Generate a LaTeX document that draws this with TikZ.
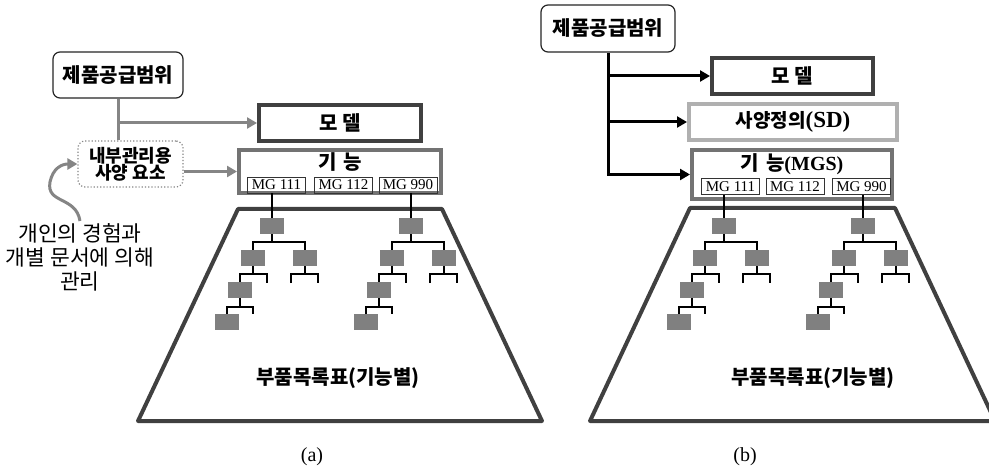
\documentclass[tikz,border=0pt]{standalone}
\usepackage{fontspec}
\setmainfont{Liberation Serif}
\newfontfamily\kr{Noto Sans CJK KR}
\usetikzlibrary{arrows.meta}
\definecolor{dk}{HTML}{404040}
\definecolor{md}{HTML}{737373}
\definecolor{lt}{HTML}{B0B0B0}
\definecolor{ln}{HTML}{858585}
\definecolor{blkc}{HTML}{808080}
\newcommand\bomtree[3]{%
\begin{scope}[shift={(#2,0)}]
 \node[blk] (#1t) at (0,226) {};
 \node[blk] (#1l) at (-19,258) {};
 \node[blk] (#1r) at (33,258) {};
 \node[blk] (#1ll) at (-32,290) {};
 \node[blk] (#1lll) at (-45,322) {};
 \coordinate (#1sa) at (-5,283);
 \coordinate (#1sb) at (19,283);
 \coordinate (#1sc) at (46,283);
 \coordinate (#1sd) at (-19,314);
 \draw[tl] (#3.south -| #1t.north) -- (#1t.north);
 \draw[tl] (#1t.south) -- (0,242);
 \draw[tl] (#1l.north) |- (0,242) -| (#1r.north);
 \draw[tl] (#1l.south) -- (-19,274);
 \draw[tl] (#1ll.north) |- (-19,274) -| (#1sa);
 \draw[tl] (#1r.south) -- (33,274);
 \draw[tl] (#1sb) |- (33,274) -| (#1sc);
 \draw[tl] (#1ll.south) -- (-32,307);
 \draw[tl] (#1lll.north) |- (-32,307) -| (#1sd);
\end{scope}}
\begin{document}
\begin{tikzpicture}[x=1pt,y=-1pt,
 scopebox/.style={draw=black!85, line width=1.2pt, rounded corners=7pt, fill=white, inner sep=0pt, font=\kr\bfseries\fontsize{20}{22}\selectfont},
 dotbox/.style={draw=ln, line width=1.2pt, dotted, rounded corners=7pt, inner sep=0pt, align=center, font=\kr\bfseries\fontsize{18}{17}\selectfont},
 modelbox/.style={draw=dk, line width=4pt, inner sep=0pt, font=\kr\bfseries\fontsize{20}{22}\selectfont},
 sdbox/.style={draw=lt, line width=4pt, inner sep=0pt, font=\kr\bfseries\fontsize{19}{22}\selectfont},
 funcbox/.style={draw=md, line width=4pt, inner sep=0pt},
 titlefont/.style={inner sep=0pt, font=\kr\bfseries\fontsize{20}{22}\selectfont},
 mgbox/.style={draw=black!80, line width=0.9pt, minimum width=58pt, minimum height=16pt, inner sep=0pt, font=\fontsize{15}{15}\selectfont},
 blk/.style={fill=blkc, minimum width=24pt, minimum height=16pt, inner sep=0pt},
 tl/.style={draw=black, line width=1.2pt},
 trap/.style={draw=dk, line width=4pt, line join=round},
 gline/.style={draw=ln, line width=3pt},
 garrow/.style={draw=ln, line width=3pt, -{Triangle[length=10pt,width=11pt]}},
 barrow/.style={draw=black, line width=3pt, -{Triangle[length=10pt,width=11pt]}},
 bomfont/.style={inner sep=0pt, font=\kr\bfseries\fontsize{20}{22}\selectfont},
 notefont/.style={inner sep=2pt, align=center, font=\kr\fontsize{21.5}{24}\selectfont},
 lab/.style={inner sep=0pt, font=\fontsize{20}{20}\selectfont}
]
\useasboundingbox (0,0) rectangle (989,468);
\fill[white] (0,0) rectangle (989,468);

% ---------- (a) ----------
\draw[trap] (238,209) -- (442,209) -- (542,421) -- (138,421) -- cycle;
\node[scopebox, minimum width=130pt, minimum height=46pt] (sa) at (118,75) {제품공급범위};
\node[dotbox, minimum width=105pt, minimum height=46pt] (ia) at (130.5,164) {내부관리용\\사양 요소};
\node[modelbox, minimum width=162pt, minimum height=36pt] (ma) at (340,123) {모 델};
\node[funcbox, minimum width=202pt, minimum height=43pt] (fa) at (340,171.5) {};
\node[titlefont] (fta) at (340,162) {기\hspace{7pt}능};
\node[mgbox] (a1) at (276.5,185) {MG 111};
\node[mgbox] (a2) at (343.5,185) {MG 112};
\node[mgbox] (a3) at (408,185) {MG 990};
\draw[gline] (sa.south) -- (sa.south |- ia.north);
\draw[garrow] (sa.south |- ma.west) -- (ma.west);
\draw[garrow] (fa.west -| ia.east) -- (fa.west);
\node[notefont] (note) at (80,257) {개인의 경험과\\개별 문서에 의해\\관리};
\draw[garrow] (note.north) .. controls (76,196) and (46,204) .. (50,182) .. controls (53,168) and (62,164) .. (ia.west);
\bomtree{ta}{272}{a1}
\bomtree{tb}{411}{a3}
\node[bomfont] (pla) at (338,378) {부품목록표(기능별)};
\node[lab] (capa) at (312,457) {(a)};

% ---------- (b) ----------
\draw[trap] (690,208) -- (895,208) -- (995,421) -- (590,421) -- cycle;
\node[scopebox, minimum width=134pt, minimum height=47pt] (sb) at (608,28.5) {제품공급범위};
\node[modelbox, minimum width=161pt, minimum height=36pt] (mb) at (792.5,76) {모 델};
\node[sdbox, minimum width=208pt, minimum height=36pt] (sdb) at (793,122) {사양정의{\rmfamily\bfseries\fontsize{23}{22}\selectfont(SD)}};
\node[funcbox, minimum width=200pt, minimum height=49pt] (fb) at (792,174.5) {};
\node[titlefont] (ftb) at (792,164) {기\hspace{7pt}능{\rmfamily\bfseries\fontsize{20}{22}\selectfont(MGS)}};
\node[mgbox] (b1) at (730.5,186.5) {MG 111};
\node[mgbox] (b2) at (795,186.5) {MG 112};
\node[mgbox] (b3) at (861.5,186.5) {MG 990};
\draw[barrow] (sb.south) |- (fb.west);
\draw[barrow] (sb.south |- mb.west) -- (mb.west);
\draw[barrow] (sb.south |- sdb.west) -- (sdb.west);
\bomtree{tc}{724}{b1}
\bomtree{td}{863}{b3}
\node[bomfont] (plb) at (813,378) {부품목록표(기능별)};
\node[lab] (capb) at (745,457) {(b)};
\end{tikzpicture}
\end{document}
